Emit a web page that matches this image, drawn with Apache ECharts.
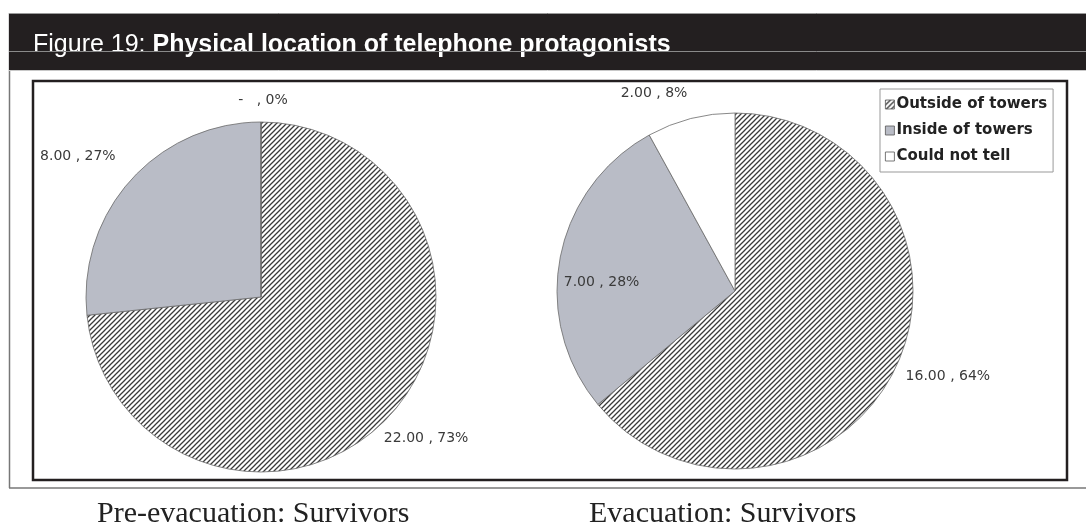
<!DOCTYPE html>
<html>
<head>
<meta charset="utf-8">
<script src="https://cdn.jsdelivr.net/npm/echarts@6/dist/echarts.min.js"></script>
<style>
  html, body { margin: 0; padding: 0; background: #fff; }
  #chart { width: 1086px; height: 526px; }
</style>
</head>
<body>
<div id="chart"></div>
<script>
// categories and values
const categories = ['Outside of towers', 'Inside of towers', 'Could not tell'];
const preEvacuation = [22, 8, 0];
const evacuation = [16, 7, 2];
const captions = ['Pre-evacuation: Survivors', 'Evacuation: Survivors'];

// small nudges so the data labels sit where the original put them
const leftNudge = [[18, 9], [-36, -8], [2, 1]];
const rightNudge = [[31, 0], [64, 29], [-31, -3]];

// diagonal hatch used for "Outside of towers"
const makeHatch = () => {
  const c = document.createElement('canvas');
  c.width = 5; c.height = 5;
  const ctx = c.getContext('2d');
  ctx.fillStyle = '#fff';
  ctx.fillRect(0, 0, 5, 5);
  ctx.strokeStyle = '#3a3a3a';
  ctx.lineWidth = 1.3;
  ctx.beginPath();
  ctx.moveTo(-1, 6); ctx.lineTo(6, -1);
  ctx.moveTo(-1, 1); ctx.lineTo(1, -1);
  ctx.moveTo(4, 6); ctx.lineTo(6, 4);
  ctx.stroke();
  return c;
};
const hatch = { image: makeHatch(), repeat: 'repeat' };
const fills = [hatch, '#b9bcc6', '#ffffff'];

const toData = (vals) => vals.map((v, i) => ({
  name: categories[i],
  value: v,
  itemStyle: { color: fills[i] }
}));

const labelFmt = (p) => (p.value ? p.value.toFixed(2) : '-  ') + ' , ' + Math.round(p.percent) + '%';

const pieSeries = (vals, center, r, nudge) => [
  {
    type: 'pie',
    center: center,
    radius: r,
    startAngle: 90,
    clockwise: true,
    silent: true,
    animation: false,
    label: { show: false },
    labelLine: { show: false },
    itemStyle: { borderColor: '#6a6a6a', borderWidth: 0.8 },
    data: toData(vals)
  },
  {
    // transparent outer ring that only carries the labels
    type: 'pie',
    center: center,
    radius: [r + 4, r + 36],
    startAngle: 90,
    clockwise: true,
    silent: true,
    animation: false,
    legendHoverLink: false,
    itemStyle: { color: 'rgba(0,0,0,0)', borderWidth: 0 },
    label: {
      show: true,
      position: 'inside',
      formatter: labelFmt,
      color: '#3a3a3a',
      fontFamily: 'DejaVu Sans, sans-serif',
      fontSize: 14
    },
    labelLine: { show: false },
    labelLayout: (p) => ({ dx: nudge[p.dataIndex][0], dy: nudge[p.dataIndex][1] }),
    data: vals.map((v, i) => ({ name: categories[i], value: v }))
  }
];

const chart = echarts.init(document.getElementById('chart'), null, { renderer: 'canvas' });
chart.setOption({
  animation: false,
  graphic: [
    // outer frame
    { type: 'line', shape: { x1: 9.5, y1: 13, x2: 9.5, y2: 488 }, style: { stroke: '#777', lineWidth: 1.5 } },
    { type: 'line', shape: { x1: 9, y1: 488, x2: 1086, y2: 488 }, style: { stroke: '#777', lineWidth: 1.5 } },
    // title bar
    { type: 'rect', shape: { x: 9, y: 13, width: 1077, height: 57 }, style: { fill: '#231f20' } },
    { type: 'line', shape: { x1: 9, y1: 13.5, x2: 1086, y2: 13.5 }, style: { stroke: '#9a9a9a', lineWidth: 1 } },
    { type: 'line', shape: { x1: 9, y1: 70.5, x2: 1086, y2: 70.5 }, style: { stroke: '#c8c8c8', lineWidth: 1 } },
    {
      type: 'text', left: 33, top: 33,
      style: {
        rich: {
          a: { fill: '#fff', fontSize: 25, fontFamily: 'Liberation Sans, Arial, sans-serif' },
          b: { fill: '#fff', fontSize: 25, fontWeight: 'bold', fontFamily: 'Liberation Sans, Arial, sans-serif' }
        },
        text: '{a|Figure 19: }{b|Physical location of telephone protagonists}'
      }
    },
    { type: 'line', shape: { x1: 9, y1: 51.5, x2: 1086, y2: 51.5 }, style: { stroke: '#8a8a8a', lineWidth: 1 } },
    // inner chart box
    { type: 'rect', shape: { x: 33, y: 81, width: 1034, height: 399 }, style: { fill: 'none', stroke: '#231f20', lineWidth: 2.5 } },
    // captions under the pies
    {
      type: 'text', left: 97, top: 499,
      style: { text: captions[0], fill: '#222', fontSize: 30, fontFamily: 'Liberation Serif, serif' }
    },
    {
      type: 'text', left: 589, top: 499,
      style: { text: captions[1], fill: '#222', fontSize: 30, fontFamily: 'Liberation Serif, serif' }
    }
  ],
  legend: {
    orient: 'vertical',
    left: 880,
    top: 89,
    data: categories,
    icon: 'rect',
    itemWidth: 9,
    itemHeight: 9,
    itemGap: 11,
    padding: [8, 6, 8, 5],
    borderColor: '#999',
    borderWidth: 1,
    selectedMode: false,
    itemStyle: { borderColor: '#555', borderWidth: 0.8 },
    textStyle: {
      color: '#222',
      fontSize: 15,
      fontWeight: 'bold',
      padding: [0, 0, 0, -3],
      fontFamily: 'DejaVu Sans, sans-serif'
    }
  },
  series: [
    ...pieSeries(preEvacuation, [261, 297], 175, leftNudge),
    ...pieSeries(evacuation, [735, 291], 178, rightNudge)
  ]
});
</script>
</body>
</html>
